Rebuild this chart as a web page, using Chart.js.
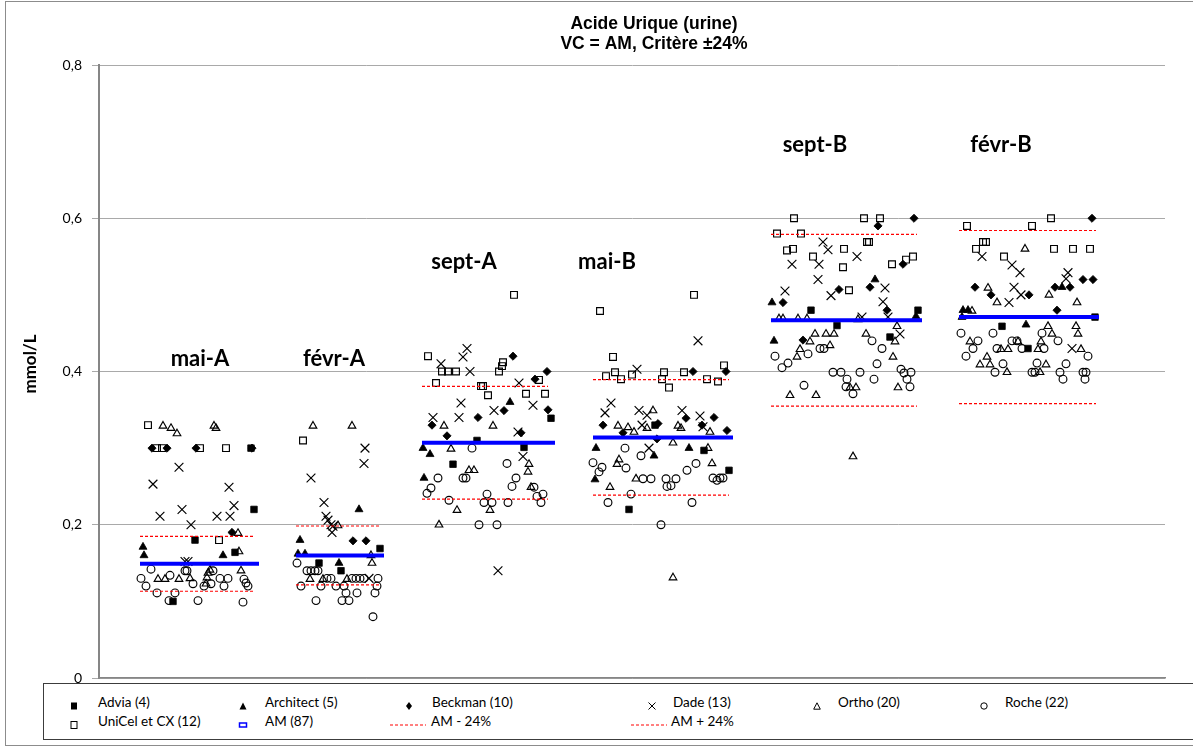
<!DOCTYPE html>
<html><head><meta charset="utf-8">
<script src="https://cdn.jsdelivr.net/npm/chart.js@4.4.1/dist/chart.umd.min.js"></script>
<style>
html,body{margin:0;padding:0;background:#fff;}
#wrap{position:relative;width:1193px;height:748px;overflow:hidden;background:#fff;}
#frame{position:absolute;left:5px;top:1px;width:1400px;height:745px;border:1px solid #8c8c8c;box-sizing:border-box;pointer-events:none;}
#cv{position:absolute;left:0;top:0;}
#legend{position:absolute;left:43px;top:683px;width:1400px;height:57px;border:1px solid #3c3c3c;box-sizing:border-box;background:#fff;}
.li{position:absolute;font-family:Lato,"Open Sans",sans-serif;font-size:13.5px;color:#000;white-space:nowrap;line-height:16px;}
.mk{position:absolute;}
</style>
</head><body>
<div id="wrap">
  <canvas id="cv" width="1193" height="748"></canvas>
  <div id="frame"></div>
  <div id="legend"></div>
</div>
<script>
// ---------------- DATA ----------------
const groups = ['mai-A','févr-A','sept-A','mai-B','sept-B','févr-B'];
const amValues = [0.149,0.160,0.307,0.314,0.467,0.471];
const amStart = [41,197,323,494,672,860];
const amEnd = [160,285,456,634,823,1000];
const limitEnd = [154,281,449,630,818,997];
const limitPct = 0.24;
const yTickLabels = ['0','0,2','0,4','0,6','0,8'];
const titleLines = ['Acide Urique (urine)','VC = AM, Critère ±24%'];
const yTitle = 'mmol/L';
const seriesNames = ['Advia (4)','Architect (5)','Beckman (10)','Dade (13)','Ortho (20)','Roche (22)','UniCel et CX (12)','AM (87)','AM - 24%','AM + 24%'];

// [x (participant position), value mmol/L]
const advia = [[152,0.300],[155,0.220],[96,0.180],[136,0.164],[74,0.100],
 [281,0.169],[220,0.150],[242,0.140],
 [378,0.310],[425,0.301],[354,0.279],[452,0.339],
 [556,0.330],[530,0.220],[605,0.297],[630,0.271],
 [712,0.480],[738,0.460],[819,0.480],[791,0.445],
 [996,0.471],[903,0.459],[929,0.430]];
const architect = [[44,0.171],[45,0.160],[124,0.160],
 [260,0.220],[201,0.180],[199,0.162],[206,0.162],[240,0.150],
 [324,0.300],[331,0.292],[411,0.360],[325,0.261],
 [497,0.300],[590,0.300],[555,0.290],[496,0.259],
 [673,0.490],[675,0.440],[776,0.520],[817,0.472],
 [864,0.480],[869,0.480],[863,0.471],[927,0.461],[963,0.510]];
const beckman = [[53,0.300],[68,0.300],[97,0.300],[153,0.300],[133,0.190],
 [254,0.179],[267,0.179],
 [414,0.420],[436,0.390],[405,0.349],[379,0.340],[333,0.330],[348,0.316],[422,0.320],[448,0.400],[449,0.350],
 [504,0.330],[524,0.320],[587,0.339],[559,0.332],[558,0.312],[594,0.400],[627,0.400],[603,0.330],[615,0.340],[628,0.323],
 [740,0.507],[684,0.490],[704,0.441],[815,0.600],[779,0.590],[804,0.540],[771,0.510],[788,0.480],
 [993,0.600],[984,0.520],[994,0.520],[876,0.510],[892,0.500],[930,0.500],[956,0.510],[971,0.510],[958,0.480]];
const dade = [[80,0.275],[54,0.253],[130,0.249],[135,0.225],[61,0.211],[83,0.220],[118,0.211],[131,0.211],[92,0.200],[86,0.152],[89,0.152],
 [266,0.300],[265,0.280],[212,0.261],[225,0.229],[227,0.211],[229,0.206],[232,0.200],[234,0.198],[233,0.190],[270,0.130],
 [368,0.430],[364,0.419],[342,0.410],[371,0.400],[420,0.385],[362,0.359],[434,0.356],[395,0.349],[334,0.340],[360,0.340],[419,0.321],[424,0.289],[399,0.140],
 [538,0.403],[506,0.346],[512,0.359],[540,0.349],[548,0.343],[543,0.330],[583,0.349],[550,0.300],[599,0.440],[601,0.342],[604,0.328],
 [724,0.569],[729,0.559],[693,0.540],[720,0.540],[719,0.520],[686,0.505],[732,0.499],[758,0.550],[786,0.509],[784,0.491],[763,0.471],[789,0.471],[801,0.449],
 [883,0.550],[913,0.539],[921,0.529],[969,0.529],[967,0.521],[915,0.510],[922,0.500],[910,0.490],[973,0.430]];
const ortho = [[64,0.329],[72,0.326],[78,0.319],[115,0.329],[117,0.326],[139,0.189],[140,0.165],[59,0.129],[66,0.129],[80,0.129],[91,0.130],[108,0.131],[109,0.137],[111,0.141],[107,0.123],[142,0.140],
 [214,0.329],[253,0.329],[239,0.199],[272,0.160],[273,0.150],[211,0.129],[224,0.129],[248,0.129],
 [345,0.329],[394,0.329],[352,0.299],[430,0.279],[429,0.269],[370,0.271],[375,0.271],[432,0.249],[358,0.219],[391,0.219],[340,0.200],
 [554,0.349],[519,0.329],[529,0.327],[535,0.321],[548,0.326],[579,0.329],[582,0.326],[574,0.307],[520,0.285],[518,0.279],[537,0.260],[511,0.249],[574,0.131],[611,0.321],[609,0.300],[613,0.280],
 [680,0.469],[684,0.469],[699,0.469],[708,0.469],[716,0.449],[727,0.449],[735,0.449],[711,0.439],[731,0.434],[701,0.429],[698,0.419],[691,0.369],[717,0.369],[754,0.289],[751,0.379],[757,0.379],[799,0.379],[759,0.468],[798,0.459],[767,0.449],[796,0.439],[794,0.419],
 [926,0.560],[889,0.509],[950,0.500],[898,0.490],[978,0.490],[873,0.479],[949,0.459],[977,0.459],[953,0.449],[979,0.449],[871,0.439],[919,0.439],[942,0.439],[902,0.429],[909,0.429],[939,0.429],[982,0.429],[888,0.419],[881,0.409],[891,0.409],[947,0.409],[908,0.399],[941,0.399]];
const roche = [[52,0.142],[86,0.140],[88,0.140],[114,0.140],[42,0.130],[71,0.134],[94,0.123],[105,0.120],[112,0.123],[121,0.130],[129,0.130],[125,0.120],[145,0.129],[147,0.124],[149,0.120],[58,0.111],[76,0.111],[70,0.101],[99,0.101],[144,0.099],[47,0.120],
 [198,0.150],[208,0.140],[212,0.140],[216,0.140],[219,0.140],[228,0.130],[232,0.130],[253,0.130],[257,0.130],[261,0.130],[265,0.130],[279,0.130],[202,0.120],[222,0.120],[237,0.120],[245,0.120],[278,0.120],[247,0.111],[258,0.111],[276,0.111],[217,0.101],[243,0.101],[250,0.101],[274,0.080],
 [373,0.300],[408,0.280],[339,0.261],[364,0.261],[367,0.261],[417,0.261],[332,0.248],[328,0.241],[413,0.250],[435,0.249],[438,0.237],[442,0.229],[444,0.240],[388,0.240],[350,0.232],[385,0.229],[393,0.229],[409,0.229],[380,0.200],[398,0.200],
 [526,0.300],[542,0.290],[494,0.281],[503,0.275],[500,0.269],[527,0.274],[588,0.271],[544,0.260],[552,0.260],[567,0.260],[577,0.260],[568,0.250],[572,0.251],[532,0.240],[509,0.229],[562,0.200],[597,0.280],[614,0.261],[618,0.258],[621,0.261],[624,0.261],[593,0.229],
 [721,0.430],[725,0.430],[709,0.423],[676,0.420],[689,0.411],[683,0.405],[734,0.399],[742,0.399],[748,0.390],[705,0.382],[754,0.371],[747,0.380],[811,0.380],[773,0.440],[783,0.430],[778,0.410],[761,0.399],[802,0.403],[805,0.398],[812,0.399],[808,0.390],[775,0.390],
 [862,0.450],[894,0.450],[943,0.450],[879,0.440],[913,0.440],[918,0.440],[959,0.440],[874,0.430],[898,0.430],[923,0.430],[945,0.430],[867,0.420],[989,0.420],[904,0.410],[938,0.411],[967,0.410],[896,0.399],[933,0.399],[936,0.399],[961,0.399],[984,0.399],[987,0.399],[964,0.390],[986,0.390]];
const unicel = [[49,0.330],[58,0.300],[63,0.300],[101,0.300],[127,0.300],[120,0.180],
 [204,0.310],
 [415,0.500],[329,0.420],[404,0.412],[403,0.407],[400,0.400],[343,0.400],[349,0.400],[357,0.400],[337,0.385],[382,0.381],[384,0.381],[389,0.369],[427,0.371],[440,0.389],[446,0.371],
 [501,0.479],[514,0.419],[507,0.394],[516,0.399],[522,0.390],[533,0.396],[565,0.399],[563,0.390],[570,0.379],[585,0.399],[595,0.500],[608,0.390],[619,0.387],[625,0.408],
 [695,0.600],[678,0.580],[702,0.580],[688,0.558],[694,0.560],[745,0.560],[714,0.550],[744,0.536],[765,0.600],[781,0.600],[768,0.569],[770,0.569],[793,0.540],[807,0.546],[814,0.550],[750,0.506],
 [868,0.590],[933,0.590],[952,0.600],[884,0.569],[887,0.569],[877,0.560],[955,0.560],[974,0.560],[991,0.560],[905,0.550]];

// ---------------- BUILD ----------------
const toPts = a => a.map(([x,y]) => ({x, y}));
function segs(factor, ends){
  const d = [];
  groups.forEach((g,i) => {
    const v = amValues[i]*factor;
    d.push({x:amStart[i], y:v}, {x:ends[i], y:v}, {x:ends[i]+1, y:null});
  });
  return d;
}
const open = 'rgba(0,0,0,0)';
function marker(label, data, style, r, filled, order){
  return {label, data: toPts(data), pointStyle: style, pointRadius: r, pointHoverRadius: r,
    backgroundColor: filled ? '#000' : open, borderColor: '#000', borderWidth: filled ? 0.8 : 1.15,
    showLine: false, order};
}
const datasets = [
  {label: seriesNames[7], data: segs(1, amEnd), showLine:true, borderColor:'#0000ff', borderWidth:4, pointRadius:0, spanGaps:false, order:0},
  {label: seriesNames[8], data: segs(1-limitPct, limitEnd), showLine:true, borderColor:'#ff0000', borderWidth:1.2, borderDash:[3,2], pointRadius:0, spanGaps:false, order:0},
  {label: seriesNames[9], data: segs(1+limitPct, limitEnd), showLine:true, borderColor:'#ff0000', borderWidth:1.2, borderDash:[3,2], pointRadius:0, spanGaps:false, order:0},
  marker(seriesNames[6], unicel, 'rect', 4.8, false, 1),
  marker(seriesNames[5], roche, 'circle', 3.9, false, 2),
  marker(seriesNames[4], ortho, 'triangle', 4.4, false, 3),
  marker(seriesNames[3], dade, 'crossRot', 6.2, false, 4),
  marker(seriesNames[2], beckman, 'rectRot', 4.1, true, 5),
  marker(seriesNames[1], architect, 'triangle', 4.6, true, 6),
  marker(seriesNames[0], advia, 'rect', 4.6, true, 7),
];

const LAYOUT = {
  labelX: [101,235,365,508,716,902],
  labelY: [0.416,0.416,0.543,0.543,0.696,0.696]
};
const annotations = {
  id: 'annotations',
  afterDraw(chart){
    const ctx = chart.ctx, xs = chart.scales.x, ys = chart.scales.y;
    ctx.save();
    ctx.fillStyle = '#000';
    ctx.textAlign = 'center';
    ctx.textBaseline = 'middle';
    ctx.font = 'bold 22px Lato, "Open Sans", sans-serif';
    groups.forEach((g,i) => ctx.fillText(g, xs.getPixelForValue(LAYOUT.labelX[i]), ys.getPixelForValue(LAYOUT.labelY[i])));
    ctx.textBaseline = 'alphabetic';
    ctx.font = 'bold 17.5px "Liberation Sans", Arial, sans-serif';
    ctx.fillText(titleLines[0], 654, 29);
    ctx.fillText(titleLines[1], 654, 49);
    ctx.translate(31, 364);
    ctx.rotate(-Math.PI/2);
    ctx.textBaseline = 'middle';
    ctx.font = 'bold 17px Lato, "Open Sans", sans-serif';
    ctx.fillText(yTitle, 0, 0);
    ctx.restore();
  }
};

function draw(){
  new Chart(document.getElementById('cv'), {
    type: 'scatter',
    data: {datasets},
    options: {
      responsive: false, animation: false, devicePixelRatio: 1,
      layout: {padding: {left:0, right:28, top:65, bottom:70}},
      plugins: {legend: {display:false}, tooltip: {enabled:false}, title: {display:false}},
      scales: {
        x: {type:'linear', min:0, max:1066,
            ticks:{display:false}, grid:{display:false, drawTicks:false},
            border:{display:true, color:'#868686', width:1.5},
            afterFit(s){ s.height = 0; }},
        y: {type:'linear', min:0, max:0.8,
            ticks:{stepSize:0.2, padding:10, color:'#000', font:{family:'Lato', size:14},
                   callback:(v,i) => yTickLabels[i]},
            grid:{color:'#a9a9a9', lineWidth:1, tickLength:7, drawTicks:true},
            border:{display:true, color:'#868686', width:2},
            afterFit(s){ s.width = 99; }}
      }
    },
    plugins: [annotations]
  });
}

// ---------------- LEGEND (HTML) ----------------
const svgs = {
  advia: '<svg width="10" height="10"><rect x="2" y="1.5" width="6" height="7" fill="#000"/></svg>',
  architect: '<svg width="10" height="10"><polygon points="5,1.5 8.5,8.5 1.5,8.5" fill="#000"/></svg>',
  beckman: '<svg width="10" height="10"><polygon points="5,1 8,5 5,9 2,5" fill="#000"/></svg>',
  dade: '<svg width="10" height="10"><path d="M1.5,1.5 L8.5,8.5 M8.5,1.5 L1.5,8.5" stroke="#000" stroke-width="1"/></svg>',
  ortho: '<svg width="10" height="10"><polygon points="5,1.8 8.3,8.2 1.7,8.2" fill="none" stroke="#000" stroke-width="1"/></svg>',
  roche: '<svg width="10" height="10"><circle cx="5" cy="5" r="3.2" fill="none" stroke="#000" stroke-width="1"/></svg>',
  unicel: '<svg width="10" height="10"><rect x="2" y="1.5" width="6" height="7" fill="none" stroke="#000" stroke-width="1"/></svg>',
  am: '<svg width="10" height="10"><rect x="1.5" y="3" width="7" height="4" fill="none" stroke="#0000ff" stroke-width="1.5"/></svg>',
  lim: '<svg width="36" height="10"><line x1="0" y1="5" x2="36" y2="5" stroke="#ff0000" stroke-width="1" stroke-dasharray="3,2"/></svg>'
};
const legendKeys = ['advia','architect','beckman','dade','ortho','roche','unicel','am','lim','lim'];
const legendPos = [ // marker center x, text x, row
  [74,98,0],[243,265,0],[409,432,0],[652,673,0],[817,838,0],[984,1005,0],
  [74,98,1],[243,265,1],[408,431,1],[649,671,1]];
function buildLegend(){
  const L = document.getElementById('legend');
  const left = 43, top = 683, rowY = [702, 721];
  seriesNames.forEach((name,i) => {
    const [mx, tx, r] = legendPos[i];
    const k = legendKeys[i];
    const m = document.createElement('div');
    m.className = 'mk';
    const w = k === 'lim' ? 36 : 10;
    m.style.left = (mx - w/2 - left - 1) + 'px';
    m.style.top = (rowY[r] - 5 - top - 1) + 'px';
    m.style.width = w + 'px'; m.style.height = '10px';
    m.innerHTML = svgs[k];
    L.appendChild(m);
    const t = document.createElement('div');
    t.className = 'li';
    t.style.left = (tx - left - 1) + 'px';
    t.style.top = (rowY[r] - 8 - top - 1) + 'px';
    t.textContent = name;
    L.appendChild(t);
  });
}
buildLegend();
draw();
</script>
</body></html>
